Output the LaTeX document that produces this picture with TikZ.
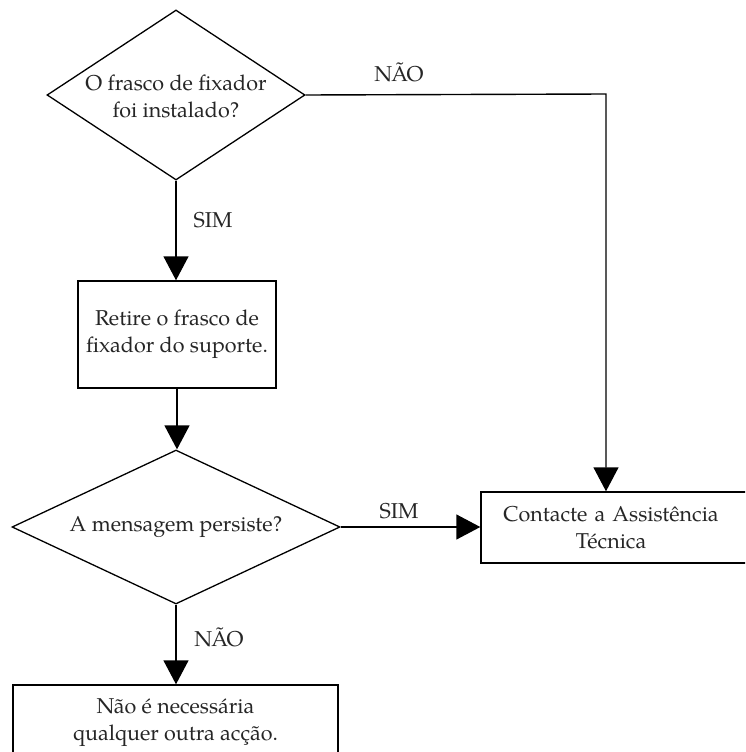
\documentclass[tikz,border=0pt]{standalone}
\usepackage{fontspec}
\setmainfont{texgyrepagella}[Extension=.otf, UprightFont=*-regular, BoldFont=*-bold, ItalicFont=*-italic, BoldItalicFont=*-bolditalic]
\usetikzlibrary{shapes.geometric,arrows.meta}
\begin{document}
\begin{tikzpicture}[x=1pt,y=-1pt,
  every node/.style={font=\fontsize{21.5}{27}\selectfont, text=black!85},
  dec/.style={diamond, draw, line width=1.3pt, inner sep=0pt},
  boxnode/.style={rectangle, draw, line width=1.4pt, align=center, inner sep=0pt},
  txt/.style={align=center, inner sep=0pt},
  arr/.style={line width=1.4pt, -{Triangle[width=25pt,length=24pt]}},
  lab/.style={inner sep=0pt}]
\clip (0,0) rectangle (745,752);
\fill[white] (0,0) rectangle (745,752);
% decision 1
\node[dec, minimum width=258pt, minimum height=170pt] (d1) at (176,95) {};
\node[txt] (d1t) at (176,96) {O frasco de fixador\\foi instalado?};
% box 2
\node[boxnode, minimum width=198pt, minimum height=107pt] (b2) at (177,334.5) {Retire o frasco de\\fixador do suporte.};
% decision 2
\node[dec, minimum width=328pt, minimum height=154pt] (d2) at (176,527) {};
\node[txt] (d2t) at (176,527) {A mensagem persiste?};
% box 3
\node[boxnode, minimum width=269pt, minimum height=71pt, text width=269pt] (b3) at (615.5,527.5) {\hspace*{-9pt}Contacte a Assistência\\\hspace*{-9pt}Técnica};
% box 4
\node[boxnode, minimum width=325pt, minimum height=75pt] (b4) at (175.5,722.5) {Não é necessária\\qualquer outra acção.};
% connectors
\coordinate (k) at (606,94);
\draw[arr] (d1.east) -- (k) -- (k |- b3.north);
\node[lab] (l1) at (399,72) {NÃO};
\draw[arr] (d1.south) -- (d1.south |- b2.north);
\node[lab] (l2) at (213,220) {SIM};
\draw[arr] (b2.south) -- (b2.south |- d2.north);
\draw[arr] (d2.east) -- (d2.east -| b3.west);
\node[lab] (l3) at (399,511) {SIM};
\draw[arr] (d2.south) -- (d2.south |- b4.north);
\node[lab] (l4) at (219,637) {NÃO};
\end{tikzpicture}
\end{document}
